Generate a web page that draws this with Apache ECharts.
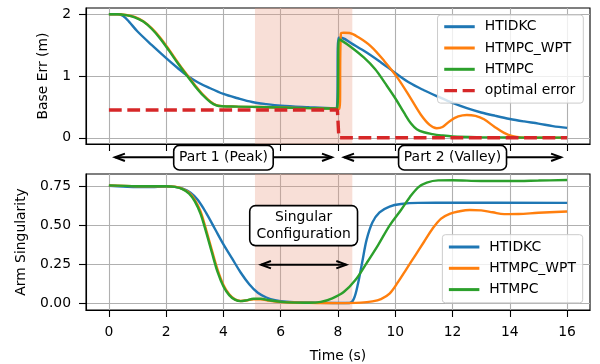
<!DOCTYPE html>
<html><head><meta charset="utf-8">
<script src="https://cdn.jsdelivr.net/npm/echarts@6/dist/echarts.min.js"></script>
<style>html,body{margin:0;padding:0;background:#fff}#c{width:600px;height:364px}</style>
</head><body><div id="c"></div>
<script>
// ---------- data ----------
const xTicks = [0, 2, 4, 6, 8, 10, 12, 14, 16];
const errTicks = [0, 1, 2];
const singTicks = [0, 0.25, 0.5, 0.75];
const names = ['HTIDKC', 'HTMPC_WPT', 'HTMPC', 'optimal error'];
const singularSpan = [5.1, 8.5];
const part1Span = [0, 8];
const part2Span = [8, 16];

const errHTIDKC = [[0,2.0],[0.35,2.0],[0.5,1.97],[0.7,1.88],[1.0,1.72],[1.5,1.50],[2.0,1.29],[2.4,1.13],[2.75,1.0],[3.1,0.9],[3.45,0.82],[4.0,0.71],[4.5,0.64],[5.0,0.58],[5.5,0.545],[6.0,0.52],[7.0,0.495],[7.95,0.475],[8.02,1.62],[8.15,1.615],[8.5,1.52],[9.0,1.38],[9.5,1.22],[10.0,1.05],[10.5,0.89],[11.0,0.77],[11.5,0.665],[12.0,0.565],[12.5,0.48],[13.0,0.41],[13.5,0.355],[14.0,0.305],[14.5,0.265],[15.0,0.23],[15.5,0.19],[16.0,0.16]];
const errHTMPC_WPT = [[0,2.0],[0.3,2.0],[0.6,1.987],[0.9,1.955],[1.2,1.885],[1.5,1.77],[1.8,1.615],[2.1,1.425],[2.4,1.225],[2.7,1.035],[3.0,0.855],[3.3,0.69],[3.55,0.585],[3.75,0.53],[3.95,0.513],[4.5,0.505],[5.5,0.495],[6.5,0.485],[7.5,0.475],[8.05,0.47],[8.1,1.68],[8.2,1.70],[8.4,1.695],[8.7,1.63],[9.15,1.48],[9.62,1.24],[10.08,0.97],[10.55,0.63],[10.9,0.37],[11.2,0.21],[11.45,0.155],[11.65,0.175],[11.9,0.27],[12.2,0.345],[12.5,0.37],[12.8,0.355],[13.1,0.30],[13.46,0.18],[13.8,0.08],[14.1,0.025],[14.4,0.005],[15.0,0.0],[16.0,0.0]];
const errHTMPC = [[0,2.0],[0.3,2.0],[0.6,1.985],[0.9,1.95],[1.2,1.88],[1.5,1.76],[1.8,1.60],[2.1,1.41],[2.4,1.21],[2.7,1.02],[3.0,0.84],[3.3,0.68],[3.55,0.575],[3.75,0.525],[3.95,0.51],[4.5,0.505],[5.5,0.495],[6.5,0.485],[7.5,0.475],[7.97,0.47],[8.03,1.59],[8.1,1.58],[8.45,1.47],[8.9,1.30],[9.3,1.11],[9.65,0.88],[10.0,0.64],[10.3,0.41],[10.55,0.23],[10.75,0.14],[11.0,0.09],[11.3,0.06],[11.6,0.04],[12.0,0.022],[13.0,0.01],[14.0,0.005],[16.0,0.003]];
const errOptimal = [[0,0.45],[7.98,0.45],[8.03,0.0],[16,0.0]];

const singHTIDKC = [[0,0.755],[0.5,0.75],[1.0,0.746],[1.5,0.747],[2.0,0.75],[2.3,0.748],[2.6,0.735],[2.85,0.71],[3.1,0.665],[3.4,0.58],[3.7,0.48],[4.0,0.38],[4.3,0.29],[4.6,0.20],[4.9,0.125],[5.2,0.07],[5.5,0.04],[5.8,0.023],[6.2,0.013],[7.0,0.008],[8.0,0.005],[8.4,0.005],[8.55,0.03],[8.7,0.13],[8.85,0.27],[9.0,0.41],[9.2,0.52],[9.45,0.585],[9.8,0.622],[10.2,0.638],[10.8,0.645],[12.0,0.646],[16.0,0.645]];
const singHTMPC_WPT = [[0,0.757],[1.0,0.752],[2.0,0.752],[2.3,0.749],[2.55,0.737],[2.8,0.71],[3.0,0.665],[3.2,0.59],[3.4,0.47],[3.6,0.34],[3.8,0.215],[4.0,0.12],[4.2,0.06],[4.4,0.028],[4.6,0.018],[4.8,0.021],[5.05,0.029],[5.3,0.029],[5.6,0.02],[6.0,0.011],[7.0,0.006],[8.0,0.004],[8.8,0.007],[9.2,0.015],[9.5,0.03],[9.8,0.065],[10.1,0.14],[10.4,0.225],[10.7,0.31],[11.0,0.395],[11.3,0.48],[11.6,0.545],[11.9,0.575],[12.2,0.59],[12.6,0.60],[13.0,0.597],[13.4,0.585],[13.8,0.573],[14.3,0.574],[15.0,0.582],[16.0,0.59]];
const singHTMPC = [[0,0.757],[1.0,0.752],[2.0,0.752],[2.3,0.748],[2.55,0.735],[2.8,0.705],[3.0,0.655],[3.2,0.575],[3.4,0.455],[3.6,0.325],[3.8,0.20],[4.0,0.11],[4.2,0.055],[4.4,0.026],[4.6,0.017],[4.8,0.022],[5.05,0.032],[5.3,0.032],[5.6,0.022],[6.0,0.012],[6.5,0.007],[7.0,0.006],[7.4,0.012],[7.8,0.035],[8.2,0.075],[8.6,0.15],[9.0,0.26],[9.4,0.375],[9.8,0.50],[10.2,0.60],[10.5,0.68],[10.8,0.745],[11.1,0.775],[11.5,0.789],[12.0,0.79],[13.0,0.785],[14.0,0.785],[15.0,0.788],[16.0,0.792]];

// ---------- styling ----------
const FONT = 'DejaVu Sans';
const FS = 13.9;
const C = {blue:'#1f77b4', orange:'#ff7f0e', green:'#2ca02c', red:'#d62728'};
const SHADE = 'rgba(233,150,122,0.3)';
const DASH = [12.8, 5.6];

function xAxisCfg(grid, showLabels) {
  return {
    type:'value', gridIndex:grid, min:-0.8, max:16.8,
    axisLine:{show:true, onZero:false, lineStyle:{color:'#000', width:1.1}},
    axisTick:{show:true, length:7, customValues:xTicks, lineStyle:{color:'#000', width:1.1}},
    splitLine:{show:true, lineStyle:{color:'#b0b0b0', width:1.1}},
    axisLabel:{show:showLabels, customValues:xTicks, margin:15, color:'#000', fontFamily:FONT, fontSize:FS, formatter:v=>String(v)}
  };
}
function yAxisCfg(grid, min, max, ticks, fmt, name, gap) {
  return {
    type:'value', gridIndex:grid, min:min, max:max,
    name:name, nameLocation:'middle', nameGap:gap, nameRotate:90,
    nameTextStyle:{color:'#000', fontFamily:FONT, fontSize:FS},
    axisLine:{show:true, onZero:false, lineStyle:{color:'#000', width:1.1}},
    axisTick:{show:true, length:7, customValues:ticks, lineStyle:{color:'#000', width:1.1}},
    splitLine:{show:true, lineStyle:{color:'#b0b0b0', width:1.1}},
    axisLabel:{customValues:ticks, margin:15, color:'#000', fontFamily:FONT, fontSize:FS, formatter:fmt}
  };
}
function lineSeries(name, grid, data, color, extra) {
  return Object.assign({
    name:name, type:'line', xAxisIndex:grid, yAxisIndex:grid, data:data,
    symbol:'none', showSymbol:false, smooth:0.35,
    lineStyle:{color:color, width:2.4}, itemStyle:{color:color},
    animation:false, silent:true
  }, extra || {});
}
function shadeSeries(grid) {
  return {
    type:'line', xAxisIndex:grid, yAxisIndex:grid, data:[], silent:true, animation:false,
    markArea:{silent:true, itemStyle:{color:SHADE}, data:[[{xAxis:singularSpan[0]},{xAxis:singularSpan[1]}]]}
  };
}
function legendCfg(data, top, right, padding) {
  return {
    data:data.map(n => n === 'optimal error' ? {name:n, lineStyle:{type:DASH, width:3.4}} : n),
    orient:'vertical', align:'left', top:top, right:right,
    itemWidth:30.5, itemHeight:14, itemGap:7.3, padding:padding,
    backgroundColor:'rgba(255,255,255,0.8)', borderColor:'#cccccc', borderWidth:1, borderRadius:3,
    itemStyle:{opacity:0}, lineStyle:{opacity:1, width:3},
    textStyle:{color:'#000', fontFamily:FONT, fontSize:FS, padding:[0,0,0,5]},
    selectedMode:false
  };
}

const chart = echarts.init(document.getElementById('c'), null, {renderer:'canvas'});
const option = {
  backgroundColor:'#fff',
  animation:false,
  textStyle:{fontFamily:FONT},
  grid:[
    {left:86, top:8, width:504, height:136, show:true, borderColor:'#000', borderWidth:1.1, backgroundColor:'transparent'},
    {left:86, top:174, width:504, height:136, show:true, borderColor:'#000', borderWidth:1.1, backgroundColor:'transparent'}
  ],
  xAxis:[ xAxisCfg(0,false), Object.assign(xAxisCfg(1,true), {name:'Time (s)', nameLocation:'middle', nameGap:39, nameTextStyle:{color:'#000', fontFamily:FONT, fontSize:FS}}) ],
  yAxis:[
    yAxisCfg(0, -0.1, 2.1, errTicks, v=>String(v), 'Base Err (m)', 36),
    yAxisCfg(1, -0.04, 0.83, singTicks, v=>v.toFixed(2), 'Arm Singularity', 58)
  ],
  legend:[
    legendCfg(names, 15, 16.7, [4.7,8,5.5,5]),
    legendCfg(names.slice(0,3), 234.7, 17.3, [5.3,6.8,6.2,5])
  ],
  series:[
    shadeSeries(0), shadeSeries(1),
    lineSeries(names[0], 0, errHTIDKC, C.blue),
    lineSeries(names[1], 0, errHTMPC_WPT, C.orange),
    lineSeries(names[2], 0, errHTMPC, C.green),
    lineSeries(names[3], 0, errOptimal, C.red, {smooth:false, lineStyle:{color:C.red, width:3.4, type:DASH}}),
    lineSeries(names[0], 1, singHTIDKC, C.blue),
    lineSeries(names[1], 1, singHTMPC_WPT, C.orange),
    lineSeries(names[2], 1, singHTMPC, C.green)
  ]
};
chart.setOption(option);

// ---------- annotations (positioned through the axes) ----------
function P(grid, x, y) { return chart.convertToPixel({xAxisIndex:grid, yAxisIndex:grid}, [x, y]); }
const ST = {stroke:'#000', lineWidth:2, fill:null, lineJoin:'miter'};
function dblArrow(x1, x2, y) {
  const s = 6, hl = 10, hw = 3.7;
  const a = x1 + s, b = x2 - s;
  return [
    {type:'polyline', z:20, silent:true, shape:{points:[[a,y],[b,y]]}, style:ST},
    {type:'polyline', z:20, silent:true, shape:{points:[[a+hl,y-hw],[a,y],[a+hl,y+hw]]}, style:ST},
    {type:'polyline', z:20, silent:true, shape:{points:[[b-hl,y-hw],[b,y],[b-hl,y+hw]]}, style:ST}
  ];
}
function box(text, x, y, lh, pad) {
  return {type:'text', z:30, silent:true, x:x, y:y, style:{
    text:text, align:'center', verticalAlign:'middle', fill:'#000',
    fontFamily:FONT, fontSize:FS, lineHeight:lh,
    backgroundColor:'#fff', borderColor:'#000', borderWidth:1.6, borderRadius:5, padding:pad
  }};
}
const topBottom = P(0, 0, -0.1)[1];
const partY = topBottom + 13.3;
const p1a = P(0, part1Span[0], 0)[0], p1b = P(0, part1Span[1], 0)[0];
const p2a = P(0, part2Span[0], 0)[0], p2b = P(0, part2Span[1], 0)[0];
const sA = P(1, singularSpan[0], 0.25), sB = P(1, singularSpan[1], 0.25);
const sC = P(1, (singularSpan[0]+singularSpan[1])/2, 0.5);
const els = []
  .concat(dblArrow(p1a, p1b, partY))
  .concat(dblArrow(p2a, p2b, partY))
  .concat(dblArrow(sA[0], sB[0], sA[1]))
  .concat([
    box('Part 1 (Peak)', P(0, (part1Span[0]+part1Span[1])/2, 0)[0], partY + 0.4, 15, [4,4.5]),
    box('Part 2 (Valley)', P(0, (part2Span[0]+part2Span[1])/2, 0)[0], partY + 0.4, 15, [4,4.5]),
    box('Singular\nConfiguration', sC[0], sC[1], 16.7, [2.5,6])
  ]);
chart.setOption({graphic:{elements:els}});
</script>
</body></html>
